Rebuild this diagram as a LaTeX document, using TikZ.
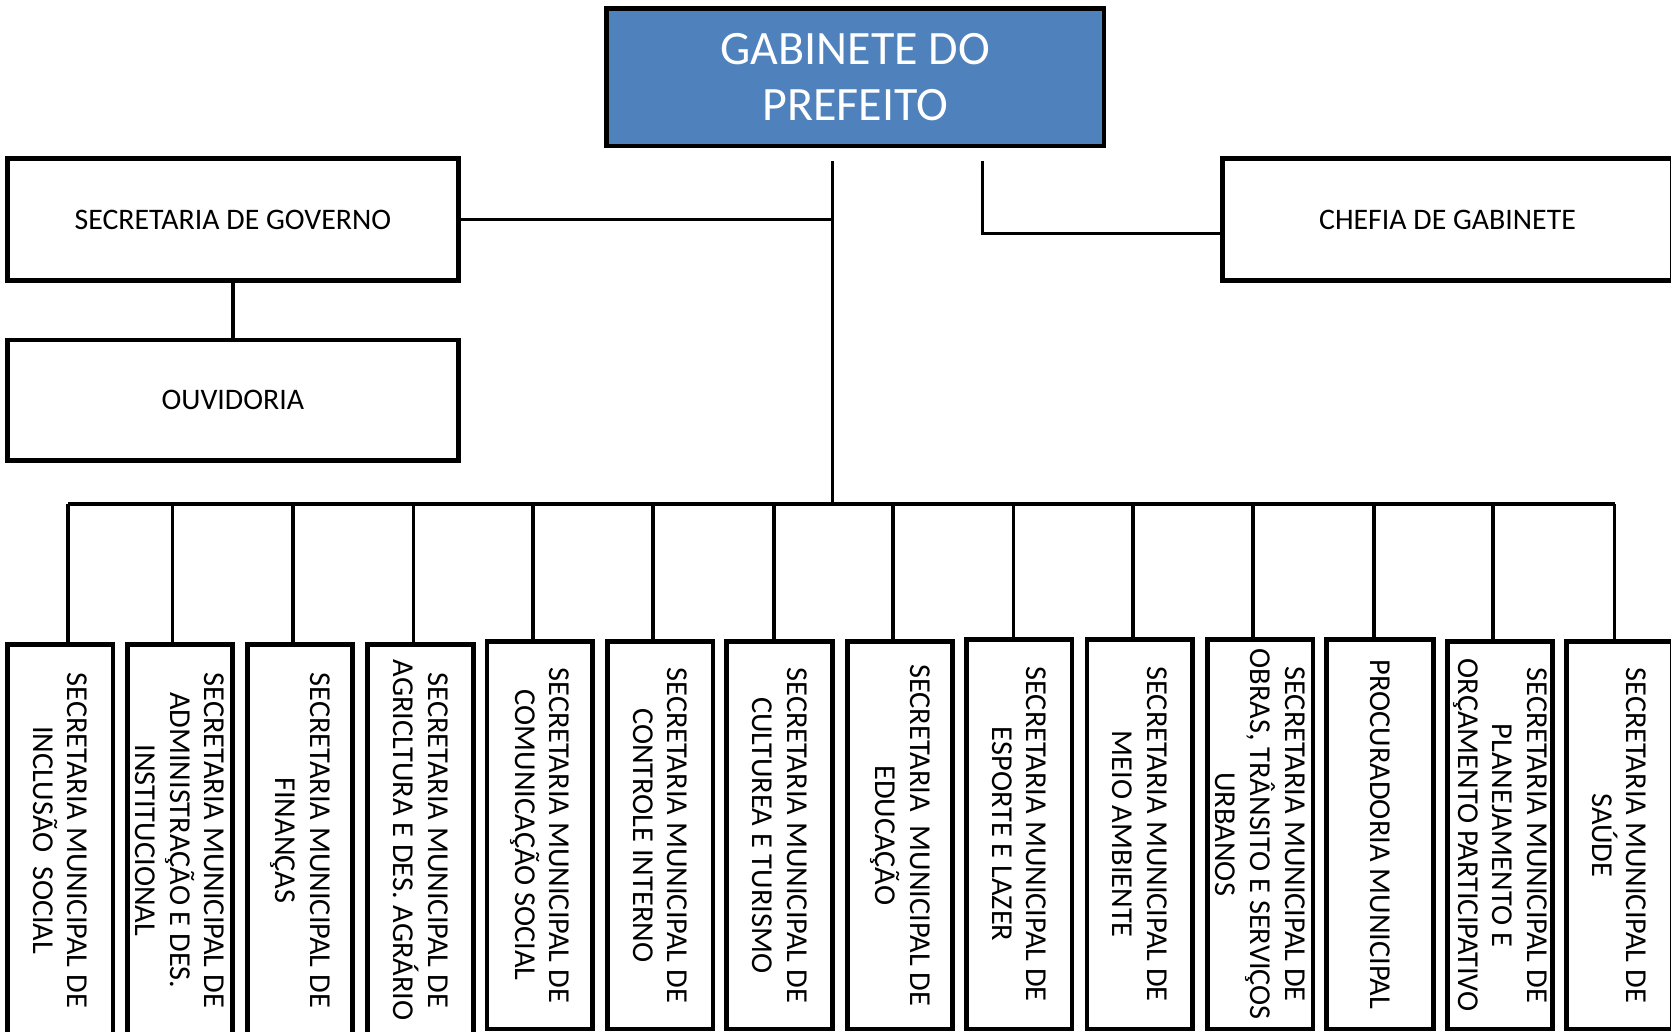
\documentclass[tikz,border=0pt]{standalone}
\usepackage{fontspec}
\setmainfont{Carlito}
\definecolor{gabblue}{HTML}{4F81BD}
\begin{document}
\begin{tikzpicture}[x=1pt,y=-1pt,
  hbox/.style={draw=black, line width=4.5pt, fill=white, inner sep=0pt, align=center, font=\fontsize{28}{34}\selectfont},
  vbox/.style={draw=black, line width=4.5pt, fill=white, rotate=-90, inner sep=0pt, align=center, minimum height=99pt, font=\fontsize{28.5}{32.5}\selectfont},
  conn/.style={line width=3.4pt}]
\useasboundingbox (0,0) rectangle (1568,968);

% top
\node[draw=black, line width=4pt, fill=gabblue, text=white, align=center, inner sep=0pt,
      minimum width=467pt, minimum height=129pt, font=\fontsize{45}{53}\selectfont]
  (gab) at (802.5,72.5) {GABINETE DO\\PREFEITO};
\node[hbox, minimum width=423pt, minimum height=114pt] (secgov) at (218.5,206) {SECRETARIA DE GOVERNO};
\node[hbox, minimum width=423pt, minimum height=113pt] (ouv) at (218.5,375.5) {OUVIDORIA};
\node[hbox, minimum width=422.5pt, minimum height=114pt] (chefia) at (1358.25,206) {CHEFIA DE GABINETE};

% bottom boxes
\node[vbox, minimum width=367pt] (b1) at (56.5,788.5) {SECRETARIA MUNICIPAL DE\\INCLUSÃO~ SOCIAL};
\node[vbox, minimum width=367pt] (b2) at (169,788.5) {SECRETARIA MUNICIPAL DE\\ADMINISTRAÇÃO E DES.\\INSTITUCIONAL};
\node[vbox, minimum width=367pt] (b3) at (281.5,788.5) {SECRETARIA MUNICIPAL DE\\FINANÇAS};
\node[vbox, minimum width=367pt] (b4) at (394.5,788.5) {SECRETARIA MUNICIPAL DE\\AGRICLTURA E DES. AGRÁRIO};
\node[vbox, minimum width=363.5pt] (b5) at (506.5,783.75) {SECRETARIA MUNICIPAL DE\\COMUNICAÇÃO SOCIAL};
\node[vbox, minimum width=363.5pt] (b6) at (619.5,783.75) {SECRETARIA MUNICIPAL DE\\CONTROLE INTERNO};
\node[vbox, minimum width=363.5pt] (b7) at (731.5,783.75) {SECRETARIA MUNICIPAL DE\\CULTUREA E TURISMO};
\node[vbox, minimum width=363.5pt] (b8) at (844.5,783.75) {SECRETARIA~ MUNICIPAL DE\\EDUCAÇÃO};
\node[vbox, minimum width=365.5pt] (b9) at (956.5,782.75) {SECRETARIA MUNICIPAL DE\\ESPORTE E LAZER};
\node[vbox, minimum width=365.5pt] (b10) at (1069.5,782.75) {SECRETARIA MUNICIPAL DE\\MEIO AMBIENTE};
\node[vbox, minimum width=365.5pt] (b11) at (1182.5,782.75) {SECRETARIA MUNICIPAL DE\\OBRAS, TRÂNSITO E SERVIÇOS\\URBANOS};
\node[vbox, minimum width=365.5pt, minimum height=100pt] (b12) at (1295,782.75) {PROCURADORIA MUNICIPAL};
\node[vbox, minimum width=363.5pt] (b13) at (1407.5,783.75) {SECRETARIA MUNICIPAL DE\\PLANEJAMENTO E\\ORÇAMENTO PARTICIPATIVO};
\node[vbox, minimum width=363.5pt] (b14) at (1519.5,783.75) {SECRETARIA MUNICIPAL DE\\SAÚDE};

% connector coordinates
\coordinate (t1) at (781,151);
\coordinate (t2) at (922,151);
\coordinate (c2) at (922,219);
\coordinate (j) at (781,473);
\coordinate (busL) at (64,473);
\coordinate (busR) at (1515,473);

\draw[conn] (t1) -- (j);
\draw[conn] (secgov.east) -- (secgov.east -| t1);
\draw[conn] (secgov.south) -- (ouv.north);
\draw[conn] (t2) -- (c2) -- (c2 -| chefia.west);
\draw[conn] (busL) -- (busR);

\foreach \i/\x in {1/64,2/162,3/275,4/388,5/500,6/613,7/726,8/838,9/951,10/1063,11/1176,12/1289,13/1401,14/1515}{
  \coordinate (d\i) at (\x,473);
  \draw[conn] (d\i) -- (d\i |- b\i.west);
}
\end{tikzpicture}
\end{document}
